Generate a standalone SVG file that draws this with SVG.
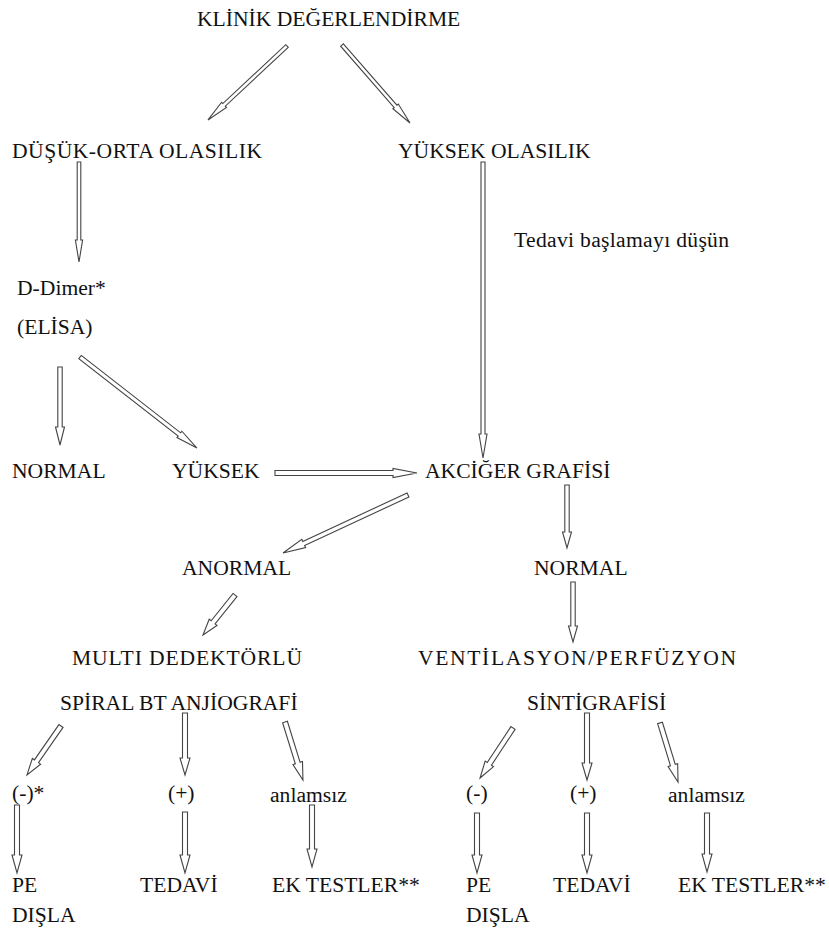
<svg xmlns="http://www.w3.org/2000/svg" width="829" height="928" viewBox="0 0 829 928">
<style>
.t text{font-size:21.6px;fill:#111}
.a{fill:#fff;stroke:#444;stroke-width:1.1;stroke-linejoin:miter}
</style>
<rect width="829" height="928" fill="#fff"/>
<g id="connectors">
<path class="a" transform="translate(287,46) rotate(136.9)" d="M0,-1.8H86.2V-3.6L108.2,0L86.2,3.6V1.8H0Z"/>
<path class="a" transform="translate(342,45) rotate(48.9)" d="M0,-1.8H81.5V-3.6L103.5,0L81.5,3.6V1.8H0Z"/>
<path class="a" transform="translate(79,162) rotate(90)" d="M0,-1.8H78V-3.6L100,0L78,3.6V1.8H0Z"/>
<path class="a" transform="translate(60,367) rotate(90)" d="M0,-2.2H60V-4.5L78,0L60,4.5V2.2H0Z"/>
<path class="a" transform="translate(80,357) rotate(37.9)" d="M0,-2H126V-4L148.2,0L126,4V2H0Z"/>
<path class="a" transform="translate(275,473) rotate(0)" d="M0,-2.5H118V-4.5L142,0L118,4.5V2.5H0Z"/>
<path class="a" transform="translate(483,162) rotate(90)" d="M0,-2H272V-4L296,0L272,4V2H0Z"/>
<path class="a" transform="translate(408,495) rotate(155.1)" d="M0,-2.2H115V-4.5L137.8,0L115,4.5V2.2H0Z"/>
<path class="a" transform="translate(567,485) rotate(90)" d="M0,-2.2H47V-4.5L63,0L47,4.5V2.2H0Z"/>
<path class="a" transform="translate(573,582) rotate(90)" d="M0,-2.2H44V-4.5L60,0L44,4.5V2.2H0Z"/>
<path class="a" transform="translate(235,595) rotate(128.7)" d="M0,-2.5H35V-5L51.2,0L35,5V2.5H0Z"/>
<path class="a" transform="translate(61,726) rotate(124.8)" d="M0,-2.5H43V-5L59.6,0L43,5V2.5H0Z"/>
<path class="a" transform="translate(185,713) rotate(90)" d="M0,-2.5H45V-5L62,0L45,5V2.5H0Z"/>
<path class="a" transform="translate(285,722) rotate(72.8)" d="M0,-2.5H43V-5L60.7,0L43,5V2.5H0Z"/>
<path class="a" transform="translate(17,805) rotate(90)" d="M0,-2.5H50V-5L68,0L50,5V2.5H0Z"/>
<path class="a" transform="translate(185,812) rotate(90)" d="M0,-2.5H43V-5L61,0L43,5V2.5H0Z"/>
<path class="a" transform="translate(312,805) rotate(90)" d="M0,-2.5H44V-5L62,0L44,5V2.5H0Z"/>
<path class="a" transform="translate(513,728) rotate(123.4)" d="M0,-2.5H43V-5L59.9,0L43,5V2.5H0Z"/>
<path class="a" transform="translate(587,713) rotate(90)" d="M0,-2.5H50V-5L67,0L50,5V2.5H0Z"/>
<path class="a" transform="translate(660,723) rotate(73)" d="M0,-2.5H44V-5L61.7,0L44,5V2.5H0Z"/>
<path class="a" transform="translate(477,813) rotate(90)" d="M0,-2.5H42V-5L60,0L42,5V2.5H0Z"/>
<path class="a" transform="translate(587,813) rotate(90)" d="M0,-2.5H42V-5L60,0L42,5V2.5H0Z"/>
<path class="a" transform="translate(707,813) rotate(90)" d="M0,-2.5H41V-5L59,0L41,5V2.5H0Z"/>
</g>
<g class="t" font-family="Liberation Serif, Times New Roman, serif">
<g id="klinik"><text x="197" y="26">KLİNİK DEĞERLENDİRME</text></g>
<g id="dusuk"><text x="12" y="158" textLength="250">DÜŞÜK-ORTA OLASILIK</text></g>
<g id="yuksek-olasilik"><text x="398" y="158">YÜKSEK OLASILIK</text></g>
<g id="tedavi-note"><text x="514" y="247" textLength="215">Tedavi başlamayı düşün</text></g>
<g id="ddimer"><text x="17" y="295">D-Dimer*</text><text x="17" y="334">(ELİSA)</text></g>
<g id="normal1"><text x="12" y="478">NORMAL</text></g>
<g id="yuksek"><text x="172" y="478">YÜKSEK</text></g>
<g id="akciger"><text x="425" y="478">AKCİĞER GRAFİSİ</text></g>
<g id="anormal"><text x="182" y="575">ANORMAL</text></g>
<g id="normal2"><text x="534" y="575">NORMAL</text></g>
<g id="multi"><text x="72" y="665" textLength="230">MULTI DEDEKTÖRLÜ</text><text x="60" y="710">SPİRAL BT ANJİOGRAFİ</text></g>
<g id="ventilasyon"><text x="418" y="665" textLength="318">VENTİLASYON/PERFÜZYON</text><text x="527" y="710">SİNTİGRAFİSİ</text></g>
<g id="neg1"><text x="12" y="800">(-)*</text></g>
<g id="pos1"><text x="168" y="800">(+)</text></g>
<g id="anl1"><text x="270" y="802">anlamsız</text></g>
<g id="pe1"><text x="12" y="892">PE</text><text x="12" y="922">DIŞLA</text></g>
<g id="tedavi1"><text x="140" y="892">TEDAVİ</text></g>
<g id="ek1"><text x="272" y="892">EK TESTLER**</text></g>
<g id="neg2"><text x="466" y="800">(-)</text></g>
<g id="pos2"><text x="570" y="800">(+)</text></g>
<g id="anl2"><text x="668" y="802">anlamsız</text></g>
<g id="pe2"><text x="466" y="892">PE</text><text x="466" y="922">DIŞLA</text></g>
<g id="tedavi2"><text x="553" y="892">TEDAVİ</text></g>
<g id="ek2"><text x="678" y="892">EK TESTLER**</text></g>
</g>
</svg>
